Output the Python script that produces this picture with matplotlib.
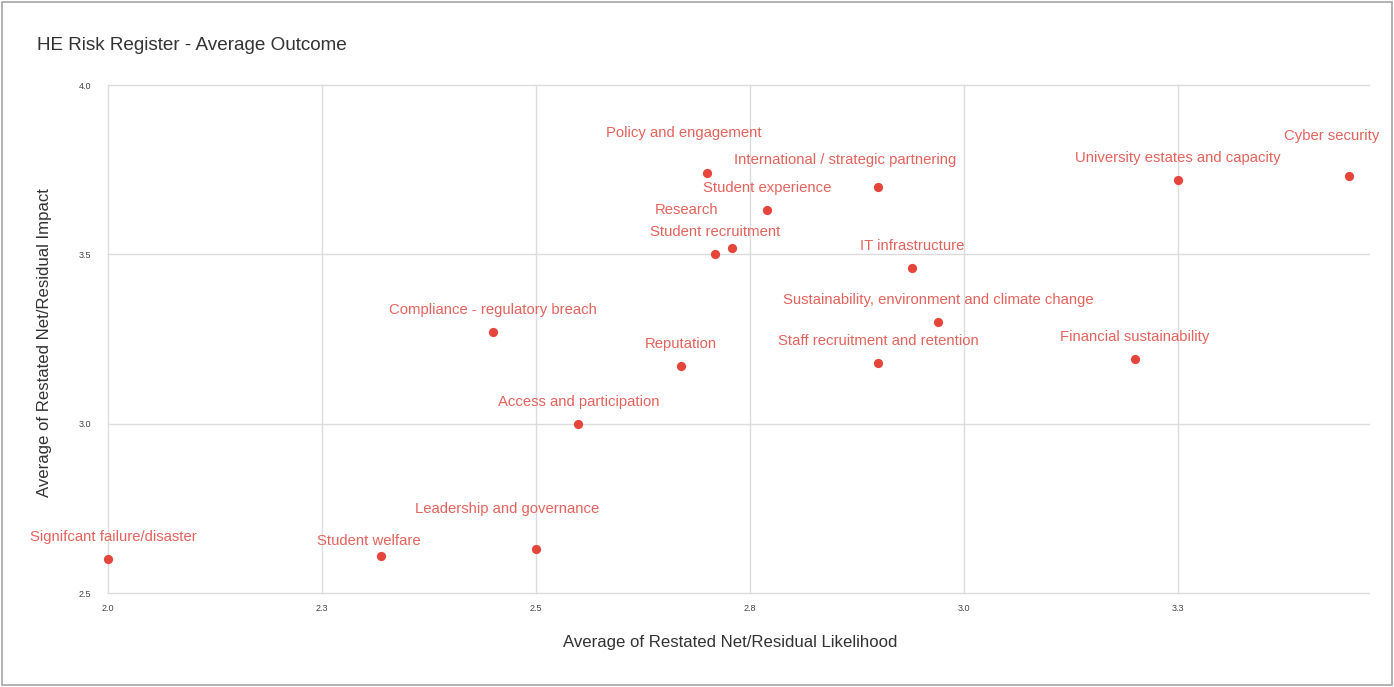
import matplotlib
matplotlib.use("Agg")
import matplotlib.pyplot as plt
from matplotlib.patches import Rectangle

plt.rcParams['font.family'] = ['Liberation Sans', 'DejaVu Sans']

# Risk categories with their average restated net/residual scores
risks = [
    "Signifcant failure/disaster",
    "Student welfare",
    "Leadership and governance",
    "Access and participation",
    "Compliance - regulatory breach",
    "Reputation",
    "Policy and engagement",
    "Student recruitment",
    "Research",
    "Student experience",
    "International / strategic partnering",
    "IT infrastructure",
    "Sustainability, environment and climate change",
    "Staff recruitment and retention",
    "Financial sustainability",
    "University estates and capacity",
    "Cyber security",
]
likelihood = [2.00, 2.32, 2.50, 2.55, 2.45, 2.67, 2.70, 2.71, 2.73, 2.77,
              2.90, 2.94, 2.97, 2.90, 3.20, 3.25, 3.45]
impact = [2.60, 2.61, 2.63, 3.00, 3.27, 3.17, 3.74, 3.50, 3.52, 3.63,
          3.70, 3.46, 3.30, 3.18, 3.19, 3.72, 3.73]

x_ticks = [2.0, 2.25, 2.5, 2.75, 3.0, 3.25]
x_tick_labels = ["2.0", "2.3", "2.5", "2.8", "3.0", "3.3"]
y_ticks = [2.5, 3.0, 3.5, 4.0]
y_tick_labels = ["2.5", "3.0", "3.5", "4.0"]

# label placement (pixel offsets from each point) to keep labels from colliding
label_offsets = {
    "Signifcant failure/disaster": (6, 22),
    "Student welfare": (-13, 15),
    "Leadership and governance": (-28, 40),
    "Policy and engagement": (-23, 40),
    "Research": (-46, 38),
    "International / strategic partnering": (-33, 27),
    "Cyber security": (-17, 40),
}
default_offset = (0, 22)

W, H = 1394, 687
fig = plt.figure(figsize=(W / 100, H / 100), dpi=100)
fig.patch.set_facecolor("white")

left, right, top, bottom = 107.5, 1369, 85, 593
ax = fig.add_axes([left / W, 1 - bottom / H, (right - left) / W, (bottom - top) / H])

ax.set_xlim(2.0, 3.4735)
ax.set_ylim(2.5, 4.0)
ax.set_xticks(x_ticks)
ax.set_xticklabels(x_tick_labels)
ax.set_yticks(y_ticks)
ax.set_yticklabels(y_tick_labels)
ax.grid(True, color="#dcdcdc", linewidth=1.0)
for gl in ax.get_xgridlines() + ax.get_ygridlines():
    gl.set_clip_on(False)
ax.set_axisbelow(True)
for s in ax.spines.values():
    s.set_visible(False)
ax.tick_params(axis="both", length=0, labelsize=6.5, labelcolor="#444444")
ax.tick_params(axis="x", pad=8)
ax.tick_params(axis="y", pad=12)

point_color = "#e5453a"
label_color = "#e4635c"
ax.scatter(likelihood, impact, s=44, color=point_color, zorder=3,
           linewidths=0, clip_on=False)

for name, xv, yv in zip(risks, likelihood, impact):
    dx, dy = label_offsets.get(name, default_offset)
    ax.annotate(name, (xv, yv), xytext=(dx, dy), textcoords="offset pixels",
                ha="center", va="center", fontsize=10.7, color=label_color,
                annotation_clip=False, zorder=4)

fig.text(37 / W, 1 - 46 / H, "HE Risk Register - Average Outcome",
         ha="left", va="center", fontsize=13.6, color="#333333")
fig.text(730 / W, 1 - 643 / H, "Average of Restated Net/Residual Likelihood",
         ha="center", va="center", fontsize=12.1, color="#333333")
fig.text(45 / W, 1 - 343 / H, "Average of Restated Net/Residual Impact",
         ha="center", va="center", rotation=90, fontsize=12.1, color="#333333")

fig.patches.append(Rectangle((2 / W, 2 / H), (W - 4) / W, (H - 4) / H,
                             transform=fig.transFigure, fill=False,
                             edgecolor="#a6a6a6", linewidth=1.2))

fig.savefig("out.png", dpi=100, facecolor="white")
